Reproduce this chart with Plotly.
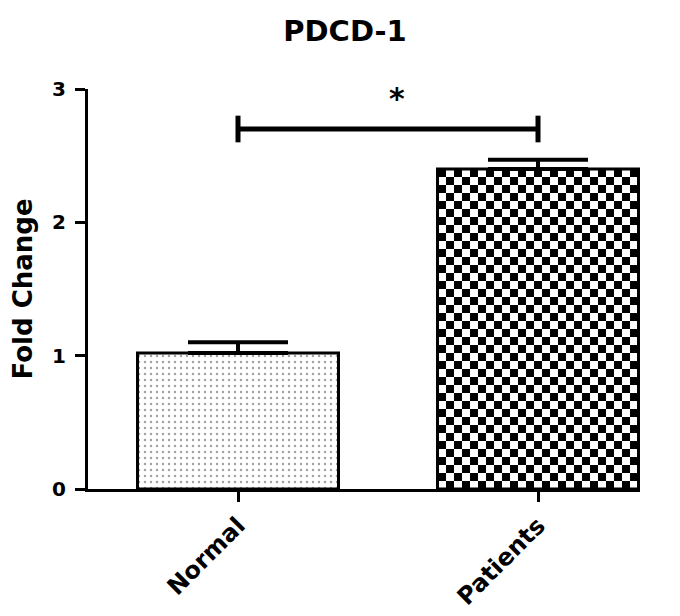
import numpy as np
import plotly.graph_objects as go

# ---- data ----
categories = ["Normal", "Patients"]
fold_change = [1.02, 2.40]
sem = [0.08, 0.07]
y_ticks = [0, 1, 2, 3]
title_text = "PDCD-1"
y_title = "Fold Change"
bracket_y = 2.70
bracket_tick = 0.10
star_y = 2.93
sig_label = "*"

FONT = "DejaVu Sans, Verdana, sans-serif"
BAR_W = 0.67
xpos = list(range(len(categories)))

fig = go.Figure()

# checkerboard texture for the Patients bar (heatmap underneath the outlined bar)
n_x = 25
n_y = int(round(fold_change[1] / 0.06))
x_edges = np.linspace(xpos[1] - BAR_W / 2, xpos[1] + BAR_W / 2, n_x + 1)
y_edges = np.linspace(0, fold_change[1], n_y + 1)
zz = (np.add.outer(np.arange(n_y), np.arange(n_x)) % 2).astype(float)
fig.add_trace(go.Heatmap(
    x=x_edges, y=y_edges, z=zz,
    colorscale=[[0, "white"], [1, "black"]],
    showscale=False, hoverinfo="skip", zmin=0, zmax=1,
))

# bars
fig.add_trace(go.Bar(
    x=xpos, y=fold_change, width=BAR_W,
    marker=dict(
        color=["white", "rgba(0,0,0,0)"],
        line=dict(color="black", width=3),
        pattern=dict(shape=[".", ""], size=6, solidity=0.14,
                     fgcolor="black", bgcolor="white"),
    ),
    error_y=dict(type="data", array=sem, arrayminus=[0, 0], symmetric=False,
                 color="black", thickness=4, width=50, visible=True),
    showlegend=False, hoverinfo="skip",
))

# significance bracket
bx = [xpos[0], xpos[1], None, xpos[0], xpos[0], None, xpos[1], xpos[1]]
by = [bracket_y, bracket_y, None,
      bracket_y - bracket_tick, bracket_y + bracket_tick, None,
      bracket_y - bracket_tick, bracket_y + bracket_tick]
fig.add_trace(go.Scatter(x=bx, y=by, mode="lines",
                         line=dict(color="black", width=5),
                         showlegend=False, hoverinfo="skip", cliponaxis=False))

fig.add_annotation(x=(xpos[0] + xpos[1]) / 2 + 0.03, y=star_y, text="<b>" + sig_label + "</b>",
                   showarrow=False, xref="x", yref="y",
                   font=dict(family=FONT, size=30, color="black"),
                   yanchor="middle")

fig.update_layout(
    width=680, height=616,
    margin=dict(l=80, r=48, t=81, b=135),
    paper_bgcolor="white", plot_bgcolor="white",
    title=dict(text="<b>" + title_text + "</b>", x=337 / 680, xanchor="center",
               y=1 - 23 / 616, yanchor="middle", yref="container",
               font=dict(family=FONT, size=29, color="black")),
    font=dict(family=FONT, color="black"),
    showlegend=False,
)

fig.update_xaxes(
    range=[-0.5, 1.34], tickmode="array", tickvals=xpos,
    ticktext=["<b>" + c + "</b>" for c in categories],
    tickangle=-45, tickfont=dict(family=FONT, size=24, color="black"),
    showline=True, linecolor="black", linewidth=3,
    ticks="outside", ticklen=10, tickwidth=3, tickcolor="black",
    showgrid=False, zeroline=False, automargin=False,
)
fig.update_yaxes(
    range=[0, 3], tickmode="array", tickvals=y_ticks,
    ticktext=["<b>%d</b>" % v for v in y_ticks],
    tickfont=dict(family=FONT, size=20, color="black"),
    showline=True, linecolor="black", linewidth=3,
    ticks="outside", ticklen=10, tickwidth=3, tickcolor="black",
    ticklabelstandoff=5,
    showgrid=False, zeroline=False, automargin=False,
    title=dict(text="<b>" + y_title + "</b>",
               font=dict(family=FONT, size=26, color="black")),
)

fig.write_html("out.html")
